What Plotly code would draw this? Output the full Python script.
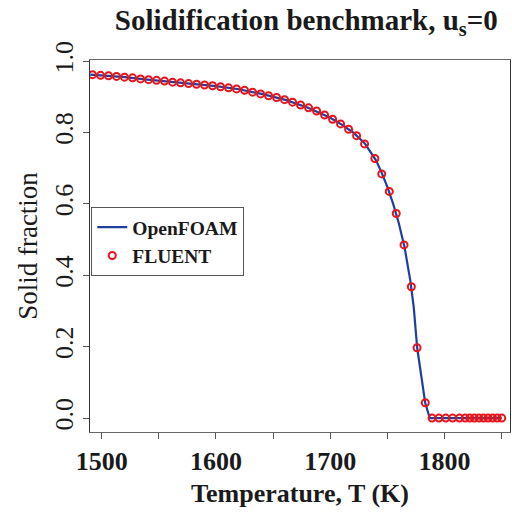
import plotly.graph_objects as go

# OpenFOAM curve (temperature K, solid fraction)
of_T = [1490, 1500, 1520, 1540, 1560, 1580, 1600, 1620, 1640, 1660, 1680, 1700,
        1710, 1720, 1730, 1740, 1745, 1750, 1755, 1760, 1765, 1770, 1773, 1776,
        1780, 1783, 1787, 1800, 1820, 1850]
of_fs = [0.962, 0.960, 0.955, 0.948, 0.942, 0.936, 0.930, 0.921, 0.908, 0.892, 0.870, 0.841,
         0.822, 0.800, 0.770, 0.722, 0.687, 0.647, 0.600, 0.545, 0.478, 0.385, 0.310, 0.197,
         0.110, 0.043, 0.0, 0.0, 0.0, 0.0]

# FLUENT points
fl_T = [1492, 1499, 1506, 1513, 1520, 1527, 1534, 1541, 1548, 1555, 1562, 1569, 1576,
        1583, 1590, 1597, 1604, 1611, 1618, 1625, 1632, 1639, 1646, 1653, 1660, 1667,
        1674, 1681, 1688, 1695, 1702, 1709, 1716, 1723, 1730, 1739, 1745, 1751.6,
        1757.7, 1764.5, 1770.9, 1775.9, 1783.1, 1789, 1795, 1801, 1807, 1813, 1818,
        1822, 1826, 1830, 1834, 1838, 1842, 1846, 1850]
fl_fs = [0.962, 0.960, 0.959, 0.957, 0.955, 0.953, 0.950, 0.948, 0.946, 0.944, 0.941, 0.939, 0.937,
         0.935, 0.933, 0.931, 0.928, 0.925, 0.922, 0.918, 0.913, 0.908, 0.903, 0.898, 0.892, 0.885,
         0.877, 0.869, 0.860, 0.849, 0.837, 0.824, 0.809, 0.791, 0.768, 0.727, 0.684, 0.635,
         0.573, 0.485, 0.368, 0.197, 0.043, 0.0, 0.0, 0.0, 0.0, 0.0, 0.0,
         0.0, 0.0, 0.0, 0.0, 0.0, 0.0, 0.0, 0.0]

x_tickvals = [1500, 1600, 1700, 1800]
x_ticktext = ["1500", "1600", "1700", "1800"]
y_tickvals = [0.0, 0.2, 0.4, 0.6, 0.8, 1.0]
y_ticktext = ["0.0", "0.2", "0.4", "0.6", "0.8", "1.0"]

SERIF = "Liberation Serif"
INK = "#1a1a1a"

fig = go.Figure()
fig.add_trace(go.Scatter(x=of_T, y=of_fs, mode="lines", name="<b>OpenFOAM</b>",
                         line=dict(color="#1f3f9f", width=2.2)))
fig.add_trace(go.Scatter(x=fl_T, y=fl_fs, mode="markers", name="<b>FLUENT</b>",
                         marker=dict(symbol="circle-open", size=7, color="#e8141c",
                                     line=dict(width=2, color="#e8141c"))))

fig.update_layout(
    width=512, height=515,
    margin=dict(l=90, r=2, t=60, b=83),
    paper_bgcolor="white", plot_bgcolor="white",
    font=dict(family=SERIF, color=INK),
    title=dict(text="<b>Solidification benchmark, u<sub>s</sub>=0</b>",
               x=0.515, xref="paper", xanchor="center", y=0.962, yanchor="middle",
               font=dict(size=29, family=SERIF, color=INK)),
    legend=dict(x=0.003, y=0.605, xanchor="left", yanchor="top",
                bgcolor="white", bordercolor="#555", borderwidth=1,
                font=dict(size=19.5, family=SERIF, color=INK)),
    showlegend=True,
)
fig.update_xaxes(range=[1489.8, 1857.2], tickvals=x_tickvals, ticktext=x_ticktext,
                 ticks="outside", ticklen=6, tickcolor="#555",
                 minor=dict(tick0=1500, dtick=50, ticks="outside", ticklen=6, tickcolor="#555"),
                 showgrid=False, zeroline=False,
                 showline=True, linecolor="#666", linewidth=1, mirror=True,
                 tickfont=dict(size=26, family=SERIF, color=INK, weight="bold"),
                 title=dict(text="<b>Temperature, T (K)</b>", standoff=8,
                            font=dict(size=26, family=SERIF, color=INK)))
fig.update_yaxes(range=[-0.039, 1.003], tickvals=y_tickvals, ticktext=y_ticktext,
                 ticks="outside", ticklen=6, tickcolor="#555", showgrid=False, zeroline=False,
                 showline=True, linecolor="#333", linewidth=1, mirror=True, tickangle=-90,
                 tickfont=dict(size=26, family=SERIF, color=INK),
                 title=dict(text="Solid fraction", standoff=4,
                            font=dict(size=27, family=SERIF, color=INK)))

fig.write_html("out.html")
